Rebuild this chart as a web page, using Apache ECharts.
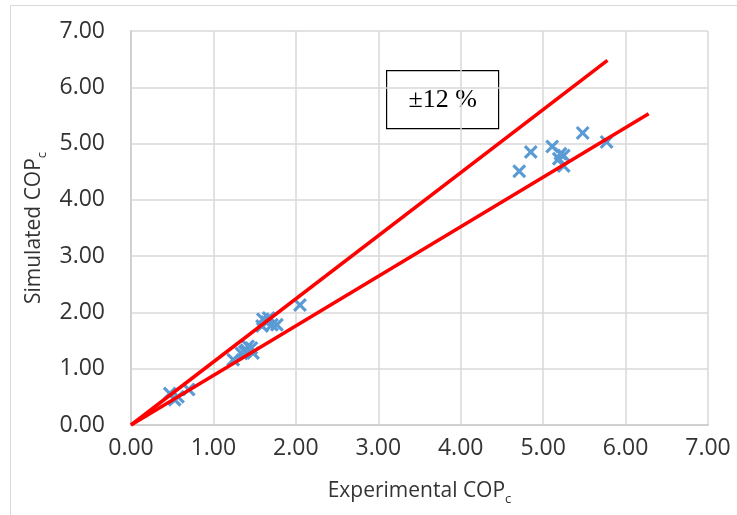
<!DOCTYPE html>
<html>
<head>
<meta charset="utf-8">
<script src="https://cdn.jsdelivr.net/npm/echarts@6/dist/echarts.min.js"></script>
<style>
  html, body { margin: 0; padding: 0; background: #fff; }
  #chart { width: 737px; height: 515px; }
</style>
</head>
<body>
<div id="chart"></div>
<script>
// measured points: experimental vs simulated COP
var expCOP = [0.47, 0.53, 0.57, 0.70,
              1.24, 1.34, 1.38, 1.40, 1.46, 1.48, 1.42,
              1.60, 1.65, 1.59, 1.71, 1.77, 1.67, 2.05,
              4.71, 4.85, 5.11, 5.21, 5.25, 5.19, 5.25, 5.48, 5.77];
var simCOP = [0.56, 0.45, 0.50, 0.63,
              1.16, 1.27, 1.30, 1.33, 1.37, 1.28, 1.40,
              1.88, 1.83, 1.76, 1.78, 1.78, 1.90, 2.13,
              4.51, 4.85, 4.95, 4.82, 4.79, 4.73, 4.60, 5.19, 5.03];

// +/-12 % bounds
var upperX = [0, 5.78];
var upperY = [0, 6.48];
var lowerX = [0, 6.28];
var lowerY = [0, 5.53];

var bandLabel = '±12 %';

function zip(a, b) {
    var out = [];
    for (var i = 0; i < a.length; i++) out.push([a[i], b[i]]);
    return out;
}

var myChart = echarts.init(document.getElementById('chart'));

var crossPath = 'path://M0,1.6L1.6,0L5,3.4L8.4,0L10,1.6L6.6,5L10,8.4L8.4,10L5,6.6L1.6,10L0,8.4L3.4,5Z';
var labelFont = 'Open Sans';

var option = {
    animation: false,
    grid: { left: 131, right: 29, top: 31, bottom: 90 },
    xAxis: {
        type: 'value',
        min: 0, max: 7, interval: 1,
        name: 'Experimental COP{sub|c}',
        nameLocation: 'middle',
        nameGap: 52,
        nameTextStyle: {
            fontFamily: labelFont, fontSize: 21, color: '#333',
            rich: { sub: { fontFamily: labelFont, fontSize: 13, color: '#333', padding: [16, 0, 0, 0] } }
        },
        axisLine: { show: true, lineStyle: { color: '#D0D0D0', width: 2 } },
        axisTick: { show: false },
        splitLine: { lineStyle: { color: '#D9D9D9', width: 1.5 } },
        axisLabel: {
            margin: 12,
            fontFamily: labelFont, fontSize: 23, color: '#333',
            formatter: function (v) { return v.toFixed(2); }
        }
    },
    yAxis: {
        type: 'value',
        min: 0, max: 7, interval: 1,
        name: 'Simulated COP{sub|c}',
        nameLocation: 'middle',
        nameGap: 76,
        nameTextStyle: {
            fontFamily: labelFont, fontSize: 21, color: '#333',
            rich: { sub: { fontFamily: labelFont, fontSize: 13, color: '#333', padding: [16, 0, 0, 0] } }
        },
        axisLine: { show: true, lineStyle: { color: '#D0D0D0', width: 2 } },
        axisTick: { show: false },
        splitLine: { lineStyle: { color: '#D9D9D9', width: 1.5 } },
        axisLabel: {
            margin: 26,
            fontFamily: labelFont, fontSize: 23, color: '#333',
            formatter: function (v) { return v.toFixed(2); }
        }
    },
    graphic: [
        {
            type: 'rect', z: -10, silent: true,
            shape: { x: 10.5, y: 5.5, width: 780, height: 560 },
            style: { fill: 'none', stroke: '#D9D9D9', lineWidth: 1 }
        },
        {
            type: 'group', left: 386, top: 70, z: 100,
            children: [
                {
                    type: 'rect',
                    shape: { x: 0, y: 0, width: 112, height: 58 },
                    style: { fill: '#fff', stroke: '#000', lineWidth: 1.2 }
                },
                {
                    type: 'text',
                    style: {
                        x: 56, y: 30, text: bandLabel,
                        fontFamily: 'Liberation Serif', fontSize: 26, fill: '#000',
                        align: 'center', verticalAlign: 'middle'
                    }
                }
            ]
        }
    ],
    series: [
        {
            type: 'scatter',
            data: zip(expCOP, simCOP),
            symbol: crossPath,
            symbolSize: 14,
            itemStyle: { color: '#5B9BD5', opacity: 1 },
            z: 2
        },
        {
            type: 'line',
            data: zip(upperX, upperY),
            symbol: 'none',
            lineStyle: { color: '#FF0000', width: 3.5 },
            z: 3
        },
        {
            type: 'line',
            data: zip(lowerX, lowerY),
            symbol: 'none',
            lineStyle: { color: '#FF0000', width: 3.5 },
            z: 3
        }
    ]
};
myChart.setOption(option);
</script>
</body>
</html>
